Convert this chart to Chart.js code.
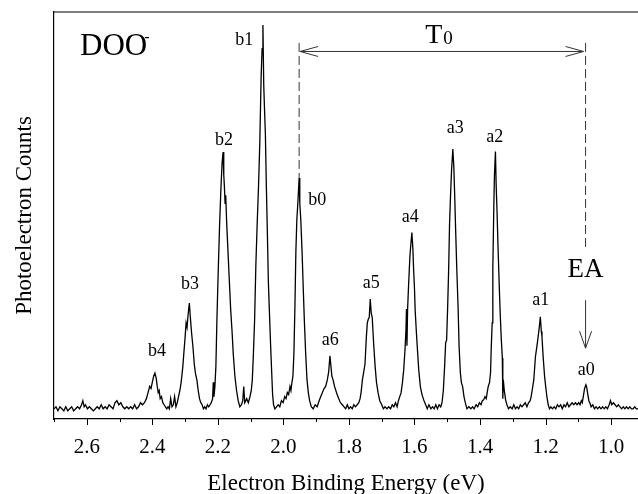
<!DOCTYPE html>
<html>
<head>
<meta charset="utf-8">
<script src="https://cdn.jsdelivr.net/npm/chart.js@4/dist/chart.umd.min.js"></script>
<style>
  html, body { margin: 0; padding: 0; background: #fff; }
  canvas { display: block; }
</style>
</head>
<body>
<canvas id="spectrum" width="638" height="494"></canvas>
<script>
// Photoelectron spectrum of DOO- (energy in eV, counts in % of full scale)
const energy = [
  2.700, 2.694, 2.688, 2.682, 2.676, 2.670, 2.664, 2.658, 2.652, 2.646,
  2.640, 2.634, 2.628, 2.622, 2.616, 2.612, 2.608, 2.604, 2.598, 2.592,
  2.586, 2.580, 2.574, 2.568, 2.562, 2.556, 2.550, 2.544, 2.538, 2.532,
  2.526, 2.520, 2.514, 2.508, 2.502, 2.496, 2.490, 2.484, 2.478, 2.472,
  2.466, 2.460, 2.454, 2.448, 2.442, 2.436, 2.430, 2.424, 2.418, 2.413,
  2.408, 2.404, 2.400, 2.396, 2.392, 2.388, 2.385, 2.382, 2.379, 2.376,
  2.372, 2.368, 2.364, 2.360, 2.356, 2.352, 2.348, 2.344, 2.340, 2.336,
  2.332, 2.328, 2.324, 2.320, 2.316, 2.312, 2.307, 2.303, 2.300, 2.297,
  2.294, 2.291, 2.287, 2.284, 2.280, 2.276, 2.272, 2.268, 2.264, 2.260,
  2.256, 2.252, 2.248, 2.244, 2.240, 2.236, 2.232, 2.228, 2.224, 2.220,
  2.216, 2.214, 2.212, 2.209, 2.206, 2.203, 2.199, 2.195, 2.191, 2.187,
  2.184, 2.182, 2.180, 2.178, 2.176, 2.173, 2.169, 2.165, 2.161, 2.157,
  2.153, 2.148, 2.143, 2.138, 2.133, 2.128, 2.124, 2.121, 2.118, 2.112,
  2.107, 2.102, 2.098, 2.095, 2.092, 2.088, 2.084, 2.080, 2.076, 2.072,
  2.068, 2.065, 2.0625, 2.060, 2.058, 2.055, 2.052, 2.049, 2.046, 2.043,
  2.039, 2.036, 2.033, 2.030, 2.026, 2.021, 2.016, 2.011, 2.006, 2.001,
  1.996, 1.992, 1.988, 1.984, 1.980, 1.977, 1.974, 1.971, 1.968, 1.965,
  1.962, 1.959, 1.956, 1.952, 1.950, 1.947, 1.943, 1.939, 1.936, 1.932,
  1.928, 1.924, 1.920, 1.915, 1.909, 1.903, 1.897, 1.891, 1.886, 1.881,
  1.876, 1.871, 1.866, 1.862, 1.858, 1.855, 1.852, 1.848, 1.844, 1.840,
  1.836, 1.831, 1.826, 1.820, 1.815, 1.810, 1.805, 1.800, 1.795, 1.790,
  1.785, 1.780, 1.775, 1.770, 1.766, 1.763, 1.759, 1.755, 1.751, 1.747,
  1.744, 1.741, 1.738, 1.735, 1.732, 1.729, 1.725, 1.720, 1.716, 1.711,
  1.706, 1.700, 1.695, 1.690, 1.684, 1.679, 1.673, 1.668, 1.663, 1.658,
  1.653, 1.649, 1.645, 1.641, 1.637, 1.633, 1.629, 1.626, 1.6245, 1.623,
  1.621, 1.618, 1.614, 1.611, 1.608, 1.605, 1.603, 1.600, 1.598, 1.594,
  1.591, 1.587, 1.582, 1.577, 1.572, 1.566, 1.561, 1.556, 1.550, 1.545,
  1.540, 1.535, 1.530, 1.525, 1.520, 1.516, 1.512, 1.508, 1.505, 1.502,
  1.499, 1.496, 1.493, 1.490, 1.487, 1.483, 1.480, 1.477, 1.475, 1.471,
  1.467, 1.464, 1.460, 1.457, 1.453, 1.449, 1.445, 1.440, 1.434, 1.428,
  1.423, 1.418, 1.412, 1.407, 1.402, 1.397, 1.393, 1.389, 1.385, 1.381,
  1.378, 1.375, 1.371, 1.368, 1.366, 1.363, 1.361, 1.358, 1.356, 1.353,
  1.351, 1.348, 1.345, 1.341, 1.338, 1.335, 1.332, 1.3305, 1.329, 1.326,
  1.322, 1.318, 1.313, 1.308, 1.302, 1.297, 1.292, 1.287, 1.282, 1.277,
  1.272, 1.267, 1.262, 1.257, 1.252, 1.247, 1.244, 1.240, 1.236, 1.231,
  1.228, 1.224, 1.219, 1.216, 1.213, 1.211, 1.208, 1.206, 1.203, 1.199,
  1.196, 1.192, 1.188, 1.184, 1.179, 1.174, 1.169, 1.164, 1.159, 1.154,
  1.149, 1.144, 1.139, 1.134, 1.129, 1.124, 1.119, 1.114, 1.109, 1.104,
  1.099, 1.095, 1.091, 1.088, 1.085, 1.081, 1.077, 1.075, 1.072, 1.068,
  1.065, 1.061, 1.056, 1.051, 1.046, 1.041, 1.036, 1.031, 1.026, 1.021,
  1.016, 1.011, 1.006, 1.002, 0.998, 0.993, 0.988, 0.983, 0.978, 0.973,
  0.968, 0.963, 0.958, 0.953, 0.948, 0.943, 0.938, 0.933, 0.928, 0.923,
  0.918
]
const counts = [
  2.5, 3, 2, 3, 2.5, 2, 3, 2, 2.5, 3,
  2, 2.5, 3, 2.5, 3.5, 4.5, 3, 3.5, 2.5, 3,
  2.5, 2, 2.5, 3, 2.5, 3.5, 2.5, 3, 2.5, 3.5,
  3, 2.5, 4, 4.5, 3.5, 4, 3, 2.5, 3, 2.5,
  3, 2.5, 3.5, 2.5, 3, 4, 3.5, 4, 5, 6.5,
  8, 7.5, 9, 10.5, 11.3, 10, 8, 6.5, 7, 5,
  5.5, 4, 3.5, 3, 2.5, 3, 2.5, 5, 3, 3.5,
  5.5, 3, 4, 5.5, 7, 9, 12.8, 17, 20, 23.6,
  22.5, 25.5, 28.5, 25, 21, 17.7, 13.5, 11, 9.6, 7,
  5, 4, 3.5, 2.5, 3, 2.5, 3.5, 3, 3.5, 4,
  5, 9, 5.5, 8, 13, 24, 36, 47, 56, 63,
  65.6, 60, 57, 53, 55, 48, 41, 34, 27, 22,
  16, 10.5, 7, 4.5, 3, 3.5, 4.5, 8, 4, 5,
  4, 5.5, 7, 9.5, 15, 24, 38, 48, 57, 68,
  84, 91, 96.8, 82, 77, 70, 57, 46, 34, 27,
  18, 12, 6, 3.5, 2.5, 3, 3.5, 3, 4.5, 4,
  5.5, 5, 6.5, 6, 8, 7, 9, 10.5, 16, 27,
  41, 49, 53, 59.2, 53, 49, 41, 31, 24, 16,
  9.6, 6.5, 4.5, 3, 2.5, 3.5, 3, 4.5, 5.5, 6.5,
  7.5, 8, 9.6, 11.5, 15.5, 13, 10.5, 9.5, 8, 7,
  6, 5, 4, 3.5, 3, 2.5, 3.5, 2.5, 3, 2.5,
  3.5, 3, 3.5, 4, 5, 6.5, 9.6, 11.5, 13.5, 20,
  23.6, 24.5, 25, 29.5, 26, 25, 19, 12.8, 9, 6.4,
  4.5, 3.5, 2.5, 3, 2.5, 3, 2.5, 3.5, 3, 4,
  3, 4.5, 5.5, 6.4, 8.8, 12, 17, 21.9, 27, 18,
  27, 33, 40, 43, 45.8, 42, 37.3, 32, 26.8, 21,
  17, 12, 7.9, 6, 4.7, 3.5, 2.5, 3.5, 2.5, 3,
  2.5, 3.5, 2.5, 3.5, 3, 4, 7, 13, 18.7, 19.4,
  27, 36, 48, 55, 61, 66.3, 62, 54, 48, 37,
  27.5, 18, 11.3, 9, 7.9, 5.5, 4, 2.5, 3, 2.5,
  3, 2.5, 3.5, 3, 4, 3.5, 4.5, 4.7, 5.5, 5,
  6.6, 8, 9, 11.3, 17, 23.6, 37, 52, 60, 65.7,
  58, 50.6, 42, 31.7, 25, 19.4, 15, 5, 9.6, 7,
  4.7, 3.5, 2.5, 3, 2.5, 3.5, 2.5, 3, 2.5, 3.5,
  3, 3.5, 4, 3, 4, 4.5, 5.5, 7.5, 9.6, 15.3,
  17, 19.4, 22.7, 25.1, 21.5, 20.2, 16, 13.7, 10.4, 7.5,
  5.5, 3.5, 2.5, 3, 2.5, 3, 2.5, 3.5, 3, 3.5,
  2.5, 3.5, 3, 4, 3, 3.5, 4, 3.5, 4, 3.5,
  4, 3.5, 4.5, 4, 5.5, 7.5, 8.4, 8, 6.5, 4.5,
  4, 3, 3.5, 2.5, 3, 2.5, 3, 2.5, 3, 2.5,
  3, 2.5, 3.5, 4.5, 3.5, 4, 3.5, 3, 3.5, 3,
  2.5, 3, 2.5, 3, 2.5, 3, 2.5, 2.5, 3, 2.5,
  2.5
]

const peakNames = ['b4', 'b3', 'b2', 'b1', 'b0', 'a6', 'a5', 'a4', 'a3', 'a2', 'a1', 'a0']
const originEnergy = 1.952   // b0, origin of the excited state
const eaEnergy = 1.078       // a0, electron affinity

// where each peak name sits: [energy, counts] of its baseline centre
const peakNameSpots = [
  [2.3855, 15.5], [2.2847, 31.9], [2.1809, 67.3], [2.1198, 91.9],
  [1.8969, 52.6], [1.8573, 18.2], [1.7321, 32.2], [1.6130, 48.4],
  [1.4756, 70.3], [1.3550, 68.1], [1.2145, 28.0], [1.0756, 10.8]
]

const serif = '"Liberation Serif", "Times New Roman", serif'

function line (ctx, x1, y1, x2, y2) {
  ctx.beginPath()
  ctx.moveTo(x1, y1)
  ctx.lineTo(x2, y2)
  ctx.stroke()
}

// open "V" arrow head, tip at (tx, ty), pointing along (dx, dy)
function arrowHead (ctx, tx, ty, dx, dy, len, half) {
  const bx = tx - dx * len
  const by = ty - dy * len
  ctx.beginPath()
  ctx.moveTo(bx - dy * half, by + dx * half)
  ctx.lineTo(tx, ty)
  ctx.lineTo(bx + dy * half, by - dx * half)
  ctx.stroke()
}

function isMajor (v) {
  return Math.round(v * 10) % 2 === 0
}

const annotations = {
  id: 'annotations',
  afterDraw (chart) {
    const { ctx, chartArea: area } = chart
    const xs = chart.scales.x
    const ys = chart.scales.y
    ctx.save()

    // top edge of the frame
    ctx.strokeStyle = '#000'
    ctx.lineWidth = 1.2
    line(ctx, area.left, area.top, area.right, area.top)

    // tick marks under the axis: long at labelled values, short between
    ctx.lineWidth = 1
    for (const t of xs.ticks) {
      const px = Math.round(xs.getPixelForValue(t.value)) + 0.5
      line(ctx, px, area.bottom, px, area.bottom + (isMajor(t.value) ? 6 : 3))
    }

    const x0 = xs.getPixelForValue(originEnergy)
    const xEA = xs.getPixelForValue(eaEnergy)

    // dashed guides
    ctx.strokeStyle = '#333'
    ctx.setLineDash([9, 4])
    line(ctx, x0, ys.getPixelForValue(92.4), x0, ys.getPixelForValue(59.2))
    line(ctx, xEA, ys.getPixelForValue(92.4), xEA, ys.getPixelForValue(41.5))
    ctx.setLineDash([])

    // T0 double arrow
    const yArrow = ys.getPixelForValue(90.3)
    line(ctx, x0 + 1, yArrow, xEA - 2, yArrow)
    arrowHead(ctx, x0 + 1, yArrow, -1, 0, 18, 5)
    arrowHead(ctx, xEA - 2, yArrow, 1, 0, 18, 5)

    // EA arrow
    const yTip = ys.getPixelForValue(17.4)
    line(ctx, xEA, ys.getPixelForValue(29.2), xEA, yTip)
    arrowHead(ctx, xEA, yTip, 0, 1, 17, 6)

    ctx.fillStyle = '#000'
    ctx.textBaseline = 'alphabetic'

    // T0
    ctx.font = '28px ' + serif
    ctx.textAlign = 'right'
    const tx = xs.getPixelForValue(1.5153)
    ctx.fillText('T', tx, ys.getPixelForValue(92.4))
    ctx.font = '19px ' + serif
    ctx.textAlign = 'left'
    ctx.fillText('0', tx + 1, ys.getPixelForValue(92.1))

    // EA
    ctx.font = '27px ' + serif
    ctx.textAlign = 'center'
    ctx.fillText('EA', xEA, ys.getPixelForValue(34.9))

    // species
    ctx.font = '31px ' + serif
    ctx.textAlign = 'left'
    const sx = xs.getPixelForValue(2.6206)
    const sy = ys.getPixelForValue(89.4)
    ctx.fillText('DOO', sx, sy)
    const w = ctx.measureText('DOO').width
    ctx.font = '16px ' + serif
    ctx.fillText('-', sx + w - 3, sy - 13)

    // peak names
    ctx.font = '18px ' + serif
    ctx.textAlign = 'center'
    peakNames.forEach((name, i) => {
      const [e, c] = peakNameSpots[i]
      ctx.fillText(name, xs.getPixelForValue(e), ys.getPixelForValue(c))
    })

    ctx.restore()
  }
}

Chart.defaults.font.family = serif
Chart.defaults.color = '#000'

new Chart(document.getElementById('spectrum'), {
  type: 'line',
  data: {
    datasets: [{
      data: energy.map((e, i) => ({ x: e, y: counts[i] })),
      borderColor: '#000',
      borderWidth: 1.3,
      pointRadius: 0,
      tension: 0,
      fill: false
    }]
  },
  options: {
    responsive: false,
    animation: false,
    devicePixelRatio: 1,
    layout: { padding: { top: 12, right: 0, left: 0, bottom: 0 } },
    plugins: {
      legend: { display: false },
      tooltip: { enabled: false }
    },
    scales: {
      x: {
        type: 'linear',
        reverse: true,
        min: 0.918,
        max: 2.70,
        afterFit: (scale) => { scale.height = 75 },
        border: { color: '#000', width: 1.2 },
        // tick marks themselves are drawn by the plugin (two lengths)
        grid: { drawOnChartArea: false, drawTicks: true, tickLength: 5, tickColor: 'rgba(0,0,0,0)' },
        ticks: {
          stepSize: 0.1,
          includeBounds: false,
          autoSkip: false,
          maxRotation: 0,
          padding: 11,
          font: { family: serif, size: 21 },
          callback: (v) => (isMajor(v) ? v.toFixed(1) : '')
        },
        title: {
          display: true,
          text: 'Electron Binding Energy (eV)',
          font: { family: serif, size: 23 },
          padding: { top: 0, bottom: -4 }
        }
      },
      y: {
        min: 0,
        max: 100,
        afterFit: (scale) => { scale.width = 54 },
        border: { color: '#000', width: 1.2 },
        grid: { display: false },
        ticks: { display: false },
        title: {
          display: true,
          text: 'Photoelectron Counts',
          font: { family: serif, size: 23 },
          padding: { top: 11, bottom: 0 }
        }
      }
    }
  },
  plugins: [annotations]
})
</script>
</body>
</html>
